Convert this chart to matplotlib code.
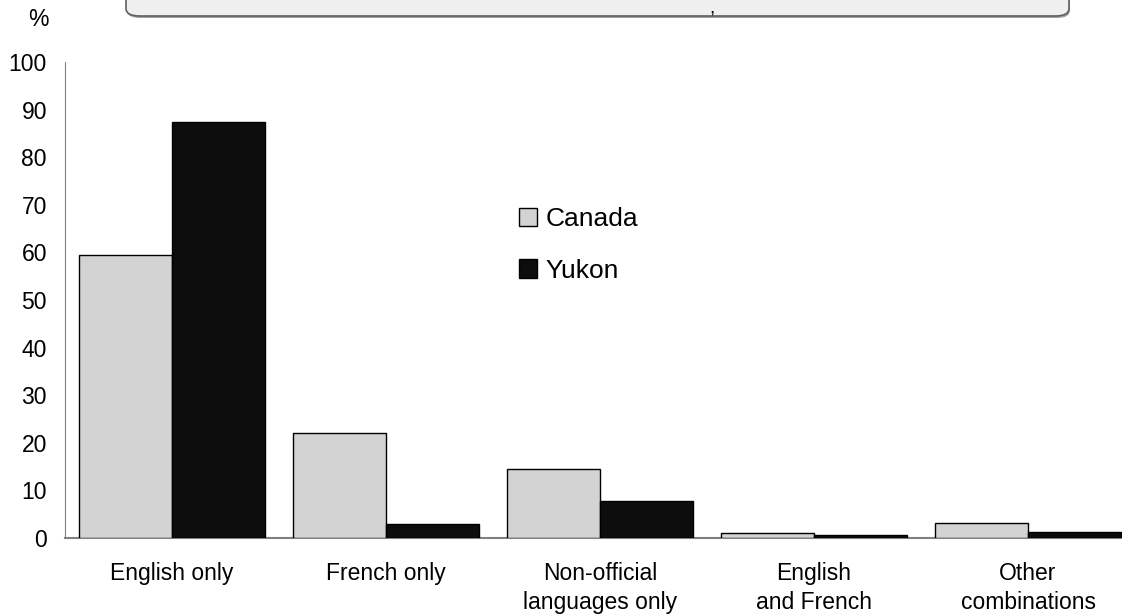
import numpy as np
import matplotlib.pyplot as plt
from matplotlib.patches import FancyBboxPatch, Patch

plt.rcParams['font.family'] = ['Liberation Sans', 'DejaVu Sans']

# --- data ---
categories = ['English only', 'French only', 'Non-official\nlanguages only',
              'English\nand French', 'Other\ncombinations']
canada = [59.4, 22.1, 14.5, 1.0, 3.1]
yukon = [87.4, 2.9, 7.8, 0.7, 1.3]
yticks = list(range(0, 101, 10))

fig = plt.figure(figsize=(11.22, 6.14), dpi=100)
ax = fig.add_axes([65/1122, 76/614, 1070/1122, 476/614])

x = np.arange(len(categories))
w = 0.435
ax.bar(x - w/2, canada, w, color='#d3d3d3', edgecolor='black', linewidth=1, label='Canada', zorder=3)
ax.bar(x + w/2, yukon, w, color='#0d0d0d', edgecolor='black', linewidth=1, label='Yukon', zorder=3)

ax.set_xlim(-0.5, 4.5)
ax.set_ylim(0, 100)
ax.set_yticks(yticks)
ax.set_yticklabels([str(t) for t in yticks], fontsize=16.5)
ax.set_xticks(x)
ax.set_xticklabels(categories, fontsize=16.5, linespacing=1.35, va='top')
ax.tick_params(axis='x', length=0, pad=17)
ax.tick_params(axis='y', length=0, pad=13)
for s in ['top', 'right']:
    ax.spines[s].set_visible(False)
ax.spines['left'].set_color('#808080')
ax.spines['bottom'].set_color('#808080')
ax.spines['bottom'].set_linewidth(1.5)

fig.text(38/1122, 1 - 20/614, '%', fontsize=16.5, ha='center', va='center')

# legend
ax.legend(handles=[Patch(facecolor='#d3d3d3', edgecolor='black', label='Canada'),
                   Patch(facecolor='#0d0d0d', edgecolor='black', label='Yukon')],
          loc='center left', bbox_to_anchor=((519 - 65)/1070, (538 - 245)/476),
          frameon=False, fontsize=19, handlelength=0.7, handleheight=0.7,
          handletextpad=0.3, labelspacing=1.05, borderpad=0, borderaxespad=0)

# title box, cut off at the top of the image
bx0, bx1, by0 = 126/1122, 1069/1122, 16/614
bh = 60/614
shadow = FancyBboxPatch((bx0 + 1/1122, 1 - by0 - 2/614), bx1 - bx0, bh,
                        boxstyle='round,pad=0,rounding_size=0.012', transform=fig.transFigure,
                        facecolor='#a0a0a0', edgecolor='none', zorder=0)
box = FancyBboxPatch((bx0, 1 - by0), bx1 - bx0, bh,
                     boxstyle='round,pad=0,rounding_size=0.012', transform=fig.transFigure,
                     facecolor='#efefef', edgecolor='#606060', linewidth=1.2, zorder=1)
fig.patches.append(shadow)
fig.patches.append(box)
# only a small mark of the title text shows inside the box
fig.text(712/1122, 1.0, ',', fontsize=14, ha='center', va='top')

plt.savefig('out.png', dpi=100)
